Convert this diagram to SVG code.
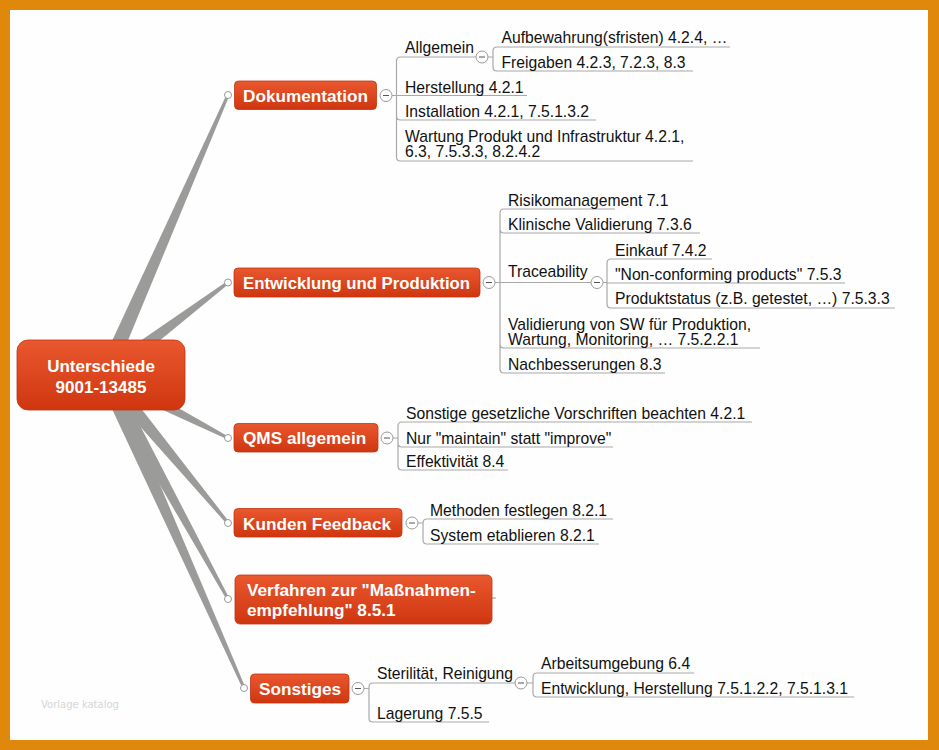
<svg xmlns="http://www.w3.org/2000/svg" width="939" height="750" viewBox="0 0 939 750">
<defs>
<linearGradient id="red" x1="0" y1="0" x2="0" y2="1">
<stop offset="0" stop-color="#e9582f"/>
<stop offset="1" stop-color="#cf3610"/>
</linearGradient>
<style>
.node{fill:url(#red);stroke:#c4340f;stroke-width:0.8}
.nt{font-family:"Liberation Sans",Arial,sans-serif;font-size:17.2px;font-weight:bold;fill:#fff}
.st{font-family:"Liberation Sans",Arial,sans-serif;font-size:15.7px;fill:#111}
.ln{fill:none;stroke:#a8a8a8;stroke-width:1.2}
.band{fill:#9b9b99}
.dot{fill:#fff;stroke:#999;stroke-width:1}
.btn{fill:#fff;stroke:#9a9a9a;stroke-width:1}
.minus{stroke:#555;stroke-width:1}
</style>
</defs>
<rect x="0" y="0" width="939" height="750" fill="#df880b"/>
<rect x="10" y="10" width="918" height="730" fill="#fdfefd"/>
<text x="41" y="708" font-family="DejaVu Sans, sans-serif" font-size="10" fill="#d6d6d6">Vorlage katalog</text>

<g id="connectors">
<polygon class="band" points="112.3,378.2 229.4,95.6 226.6,94.4 97.7,371.8"/>
<polygon class="band" points="109.8,381.4 228.9,283.7 227.1,281.3 100.2,368.6"/>
<polygon class="band" points="101.4,382.1 227.3,439.3 228.7,436.7 108.6,367.9"/>
<polygon class="band" points="98.8,380.1 226.8,524.0 229.2,522.0 111.2,369.9"/>
<polygon class="band" points="98.0,378.8 226.7,599.7 229.3,598.3 112.0,371.2"/>
<polygon class="band" points="97.7,378.2 242.6,688.6 245.4,687.4 112.3,371.8"/>
<circle class="dot" cx="228" cy="95" r="3.5"/>
<circle class="dot" cx="228" cy="282.5" r="3.5"/>
<circle class="dot" cx="228" cy="438" r="3.5"/>
<circle class="dot" cx="228" cy="523" r="3.5"/>
<circle class="dot" cx="228" cy="599" r="3.5"/>
<circle class="dot" cx="244" cy="688" r="3.5"/>
<path class="ln" d="M392,95.5 H396.5 M396.5,61 V157 M396.5,61 Q396.5,57 400.5,57 H476 M396.5,95.5 H527 M396.5,116 Q396.5,120 400.5,120 H596 M396.5,157 Q396.5,161 400.5,161 H693"/>
<path class="ln" d="M488,57 H493 M493,51 V67 M493,51 Q493,47 497,47 H730 M493,67 Q493,71 497,71 H693"/>
<path class="ln" d="M495,282.5 H500 M500,213 V369 M500,213 Q500,209 504,209 H615 M500,229 Q500,233 504,233 H700 M500,282.5 H591 M500,344 Q500,348 504,348 H760 M500,369 Q500,373 504,373 H665"/>
<path class="ln" d="M603,282.5 H607 M607,263 V304 M607,263 Q607,259 611,259 H712 M607,283 H845 M607,304 Q607,308 611,308 H895"/>
<path class="ln" d="M393,438 H398 M398,426 V466 M398,426 Q398,422 402,422 H752 M398,443 Q398,447 402,447 H613 M398,466 Q398,470 402,470 H508"/>
<path class="ln" d="M418,523 H423 M423,523 V540 M423,523 Q423,519 427,519 H613 M423,540 Q423,544 427,544 H599"/>
<path class="ln" d="M492,598 H496"/>
<path class="ln" d="M364,688.5 H369 M369,687 V718 M369,687 Q369,683 373,683 H515 M369,718 Q369,722 373,722 H489"/>
<path class="ln" d="M527,683 H533 M533,677 V693 M533,677 Q533,673 537,673 H694 M533,693 Q533,697 537,697 H854"/>
</g>

<g id="root">
<rect class="node" x="17" y="340" width="168" height="70" rx="11"/>
<text class="nt" x="101" y="371.5" text-anchor="middle" style="font-size:17px">Unterschiede</text>
<text class="nt" x="101" y="392.5" text-anchor="middle" style="font-size:17px">9001-13485</text>
</g>

<g id="dokumentation">
<rect class="node" x="234.5" y="81" width="142" height="28.5" rx="4"/>
<text class="nt" x="243" y="101.5">Dokumentation</text>
<circle class="btn" cx="386" cy="95.5" r="6"/><path class="minus" d="M383,95.5 H389"/>
<text class="st" x="405" y="53">Allgemein</text>
<circle class="btn" cx="482" cy="57" r="6"/><path class="minus" d="M479,57 H485"/>
<text class="st" x="501.5" y="43">Aufbewahrung(sfristen) 4.2.4, …</text>
<text class="st" x="501.5" y="67.5">Freigaben 4.2.3, 7.2.3, 8.3</text>
<text class="st" x="405" y="92.5">Herstellung 4.2.1</text>
<text class="st" x="405" y="116.5">Installation 4.2.1, 7.5.1.3.2</text>
<text class="st" x="405" y="141.5">Wartung Produkt und Infrastruktur 4.2.1,</text>
<text class="st" x="405" y="157">6.3, 7.5.3.3, 8.2.4.2</text>
</g>

<g id="entwicklung">
<rect class="node" x="234" y="268" width="246" height="29" rx="4"/>
<text class="nt" x="243" y="289" textLength="227" lengthAdjust="spacingAndGlyphs">Entwicklung und Produktion</text>
<circle class="btn" cx="489" cy="282.5" r="6"/><path class="minus" d="M486,282.5 H492"/>
<text class="st" x="508" y="205.5">Risikomanagement 7.1</text>
<text class="st" x="508" y="229.5">Klinische Validierung 7.3.6</text>
<text class="st" x="508" y="277">Traceability</text>
<circle class="btn" cx="597" cy="282.5" r="6"/><path class="minus" d="M594,282.5 H600"/>
<text class="st" x="615" y="255.5">Einkauf 7.4.2</text>
<text class="st" x="615" y="279.5">"Non-conforming products" 7.5.3</text>
<text class="st" x="615" y="304">Produktstatus (z.B. getestet, …) 7.5.3.3</text>
<text class="st" x="508" y="329.5">Validierung von SW für Produktion,</text>
<text class="st" x="508" y="345">Wartung, Monitoring, … 7.5.2.2.1</text>
<text class="st" x="508" y="369.5">Nachbesserungen 8.3</text>
</g>

<g id="qms">
<rect class="node" x="234" y="423.5" width="144" height="28.5" rx="4"/>
<text class="nt" x="243" y="444">QMS allgemein</text>
<circle class="btn" cx="387" cy="438" r="6"/><path class="minus" d="M384,438 H390"/>
<text class="st" x="406" y="418.5">Sonstige gesetzliche Vorschriften beachten 4.2.1</text>
<text class="st" x="406" y="443.5">Nur "maintain" statt "improve"</text>
<text class="st" x="406" y="467">Effektivität 8.4</text>
</g>

<g id="kunden">
<rect class="node" x="234" y="508.5" width="168" height="28.5" rx="4"/>
<text class="nt" x="243" y="529.5">Kunden Feedback</text>
<circle class="btn" cx="412" cy="523" r="6"/><path class="minus" d="M409,523 H415"/>
<text class="st" x="430" y="516">Methoden festlegen 8.2.1</text>
<text class="st" x="430" y="540.5">System etablieren 8.2.1</text>
</g>

<g id="verfahren">
<rect class="node" x="235" y="575" width="257" height="49" rx="5"/>
<text class="nt" x="247" y="596">Verfahren zur "Maßnahmen-</text>
<text class="nt" x="247" y="616">empfehlung" 8.5.1</text>
</g>

<g id="sonstiges">
<rect class="node" x="250.5" y="674" width="98.5" height="29" rx="4"/>
<text class="nt" x="259" y="694.5">Sonstiges</text>
<circle class="btn" cx="358" cy="688.5" r="6"/><path class="minus" d="M355,688.5 H361"/>
<text class="st" x="377" y="678.5">Sterilität, Reinigung</text>
<circle class="btn" cx="521" cy="683" r="6"/><path class="minus" d="M518,683 H524"/>
<text class="st" x="541" y="669">Arbeitsumgebung 6.4</text>
<text class="st" x="541" y="693.5">Entwicklung, Herstellung 7.5.1.2.2, 7.5.1.3.1</text>
<text class="st" x="377" y="718.5">Lagerung 7.5.5</text>
</g>
</svg>
